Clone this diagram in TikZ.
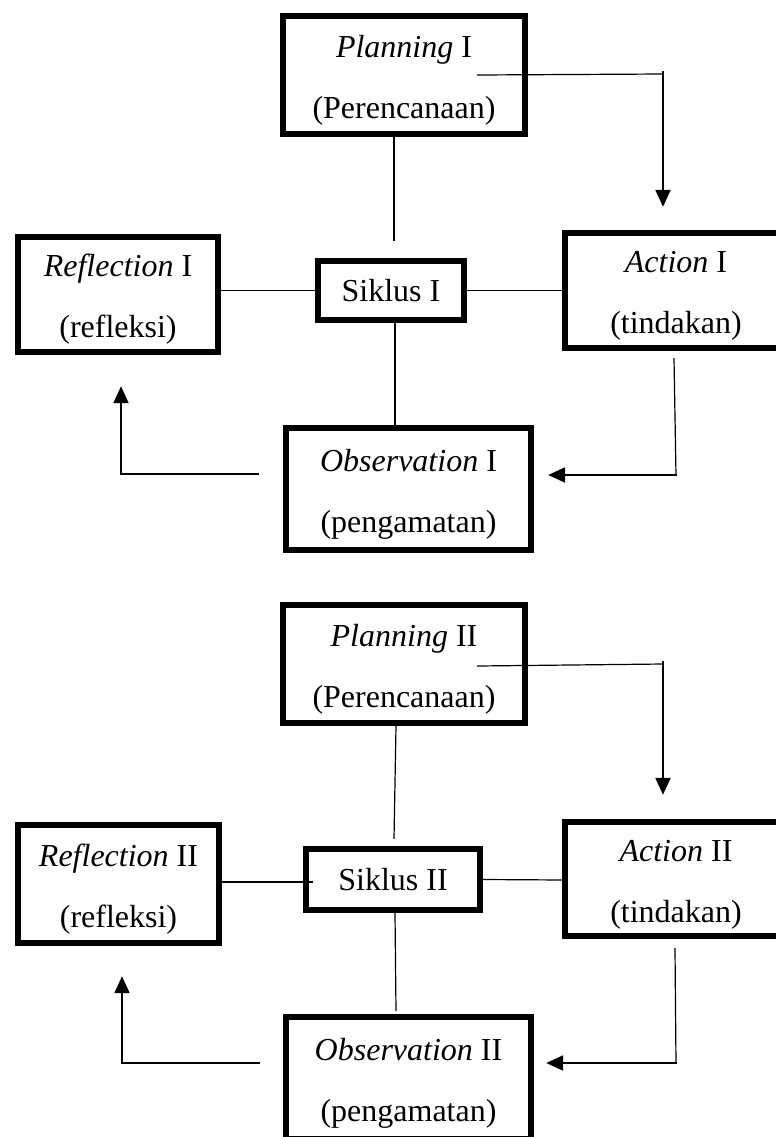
\documentclass[tikz,border=0pt]{standalone}
\usepackage{fontspec}
\setmainfont{Liberation Serif}
\usetikzlibrary{arrows.meta,calc}
\newcommand{\twolines}[2]{\raisebox{-2.5pt}[\height][\depth]{\begin{tabular}{@{}c@{}}#1\\[11.5pt]#2\end{tabular}}}
\begin{document}
\begin{tikzpicture}[x=0.5pt,y=-0.5pt,
  box/.style={draw, line width=3.2pt, rectangle, inner sep=0pt,
    font=\fontsize{16}{19}\selectfont},
  thinline/.style={line width=0.6pt},
  arrline/.style={line width=1.1pt, -{Triangle[width=7.5pt,length=8.5pt]}}]
\useasboundingbox (0,0) rectangle (776,1137);
\clip (0,0) rectangle (776,1137);

% ---------------- Cycle I ----------------
\node[box, minimum width=121pt, minimum height=59pt] (P1) at (404,75)
  {\twolines{\textit{Planning} I}{(Perencanaan)}};
\node[box, minimum width=100pt, minimum height=57.5pt] (R1) at (118,294.5)
  {\twolines{\textit{Reflection} I}{(refleksi)}};
\node[box, minimum width=73pt, minimum height=29.5pt] (S1) at (391,290.5)
  {Siklus I};
\node[box, minimum width=111pt, minimum height=57.5pt] (A1) at (676,290.5)
  {\twolines{\textit{Action} I}{(tindakan)}};
\node[box, minimum width=122.5pt, minimum height=61pt] (O1) at (408.5,489)
  {\twolines{\textit{Observation} I}{(pengamatan)}};

\coordinate (c1) at (663,74);
\coordinate (c2) at (676,475);
\coordinate (c3) at (121,474);

\draw[thinline] ($(P1.south)+(-10,-6)$) -- ($(S1.north)+(3,-17)$);
\draw[thinline] (S1.west -| R1.east) -- (S1.west);
\draw[thinline] (S1.east) -- (S1.east -| A1.west);
\draw[thinline] ($(S1.south)+(4,0)$) -- ($(O1.north)+(-13.5,0)$);

\draw[thinline] ($(P1.center)+(73,0)$) -- (c1);
\draw[arrline] ($(c1)+(0,-3)$) -- ($(A1.north)+(-13,-23)$);

\draw[thinline] ($(A1.south)+(-2,7)$) -- (c2);
\draw[arrline] ($(c2)+(0.5,0)$) -- ($(O1.east)+(14,-14)$);

\draw[arrline] ($(O1.west)+(-24,-15)$) -- (c3) -- ($(R1.south)+(3,31)$);

% ---------------- Cycle II ----------------
\node[box, minimum width=121pt, minimum height=59pt] (P2) at (404,664)
  {\twolines{\textit{Planning} II}{(Perencanaan)}};
\node[box, minimum width=100.5pt, minimum height=59pt] (R2) at (118.5,884)
  {\twolines{\textit{Reflection} II}{(refleksi)}};
\node[box, minimum width=87pt, minimum height=30.5pt] (S2) at (393,879.5)
  {Siklus II};
\node[box, minimum width=111pt, minimum height=57pt] (A2) at (676,879)
  {\twolines{\textit{Action} II}{(tindakan)}};
\node[box, minimum width=122.5pt, minimum height=61pt] (O2) at (408.5,1078)
  {\twolines{\textit{Observation} II}{(pengamatan)}};

\coordinate (d1) at (663,664);
\coordinate (d2) at (676,1063);
\coordinate (d3) at (122,1063);

\draw[thinline] ($(P2.south)+(-8,0)$) -- ($(S2.north)+(1,-7)$);
\draw[thinline] ($(R2.east)+(0,-2)$) -- ($(S2.west)+(10,2.5)$);
\draw[thinline] (S2.east) -- ($(A2.west)+(3,1)$);
\draw[thinline] ($(S2.south)+(2,0)$) -- ($(O2.north)+(-12.5,-3)$);

\draw[thinline] ($(P2.center)+(73,2)$) -- (d1);
\draw[arrline] ($(d1)+(0,-3)$) -- ($(A2.north)+(-13,-24)$);

\draw[thinline] ($(A2.south)+(-1,9)$) -- (d2);
\draw[arrline] ($(d2)+(0.5,0)$) -- ($(O2.east)+(12,-15)$);

\draw[arrline] ($(O2.west)+(-23,-15)$) -- (d3) -- ($(R2.south)+(3.5,30)$);
\end{tikzpicture}
\end{document}
